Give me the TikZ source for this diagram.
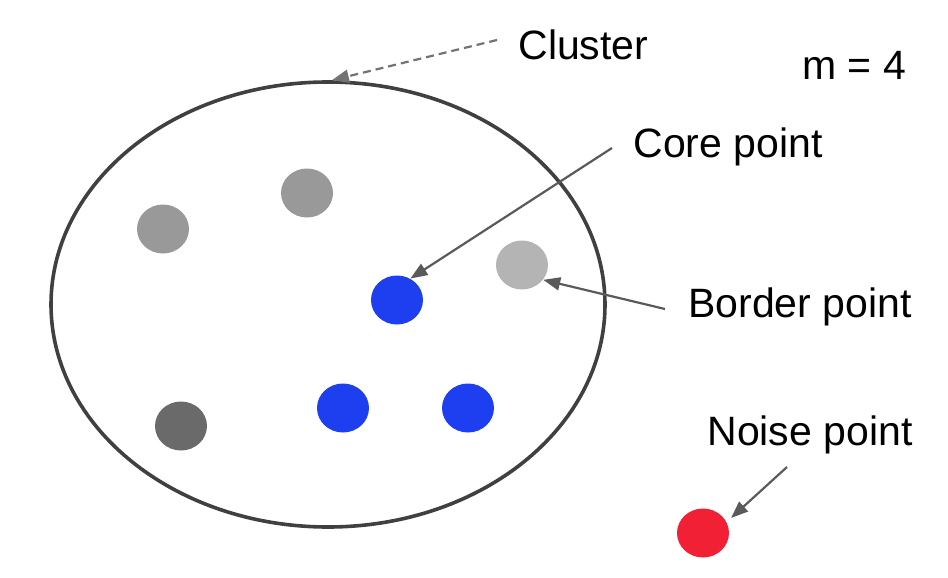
\documentclass[tikz,border=0pt]{standalone}
\usepackage{fontspec}
\setmainfont{Liberation Sans}
\usepackage{tikz}
\usetikzlibrary{shapes.geometric, arrows.meta}
\usetikzlibrary{positioning}
\definecolor{dotgray}{HTML}{999999}
\definecolor{dotlight}{HTML}{B4B4B4}
\definecolor{dotdark}{HTML}{6A6A6A}
\definecolor{dotblue}{HTML}{1E3FF0}
\definecolor{dotred}{HTML}{F22035}
\definecolor{pointer}{HTML}{5A5A5A}
\tikzstyle{dot} = [ellipse, 
minimum width=26pt, 
minimum height=24.5pt, 
inner sep=0pt]
\tikzstyle{cluster} = [ellipse, 
minimum width=277pt, 
minimum height=222.5pt, 
inner sep=0pt, 
draw=black!75, 
line width=1.8pt]
\tikzstyle{lbl} = [anchor=base west, inner sep=0pt, 
font=\fontsize{20.5}{24}\selectfont]
\tikzstyle{line} = [draw=pointer, line width=1.1pt, -{Triangle[length=8.5pt,width=6.5pt]}]

\begin{document}
\begin{tikzpicture}[x=0.5pt,y=-0.5pt]
\useasboundingbox (0,0) rectangle (948,578);

\node [cluster] (c1) at (328,304.5) {};

\node [dot, fill=dotgray] (g1) at (163,229) {};
\node [dot, fill=dotgray] (g2) at (307,193) {};
\node [dot, fill=dotdark] (g3) at (181,426) {};
\node [dot, fill=dotlight] (border) at (522,265) {};
\node [dot, fill=dotblue] (core) at (397,300) {};
\node [dot, fill=dotblue] (b2) at (343,408) {};
\node [dot, fill=dotblue] (b3) at (468,408) {};
\node [dot, fill=dotred] (noise) at (703,533) {};

\node [lbl] (l1) at (518,59) {Cluster};
\node [lbl] (l0) at (802,79) {m = 4};
\node [lbl] (l2) at (633,157) {Core point};
\node [lbl] (l3) at (688,317) {Border point};
\node [lbl] (l4) at (707,445) {Noise point};

\coordinate (a1) at (497,40);
\coordinate (a2) at (612,148);
\coordinate (a3) at (665,309);
\coordinate (a4) at (787,467);

\path [line, draw=black!55, dash pattern=on 4pt off 2.5pt] (a1) -- (c1.89);
\path [line](a2) -- (core.58);
\path [line](a3) -- (border.-35);
\path [line, shorten >=3pt](a4) -- (noise.25);

\end{tikzpicture}
\end{document}
